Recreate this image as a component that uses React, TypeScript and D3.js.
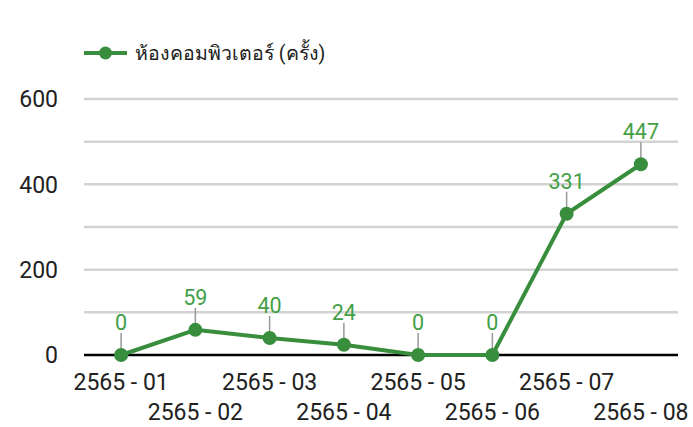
import React from "react";
import * as d3 from "d3";

const categories = ["2565 - 01", "2565 - 02", "2565 - 03", "2565 - 04", "2565 - 05", "2565 - 06", "2565 - 07", "2565 - 08"];
const values = [0, 59, 40, 24, 0, 0, 331, 447];
const yTicks = [0, 200, 400, 600];
const gridTicks = [0, 100, 200, 300, 400, 500, 600];
const seriesName = "ห้องคอมพิวเตอร์ (ครั้ง)";

const W = 693, H = 427;
const left = 84, right = 678, top = 99, bottom = 355;
const lineColor = "#388e3c";
const labelColor = "#43a047";
const font = "Roboto, 'Noto Sans', sans-serif";

export default function App() {
  const x = d3.scaleBand<string>().domain(categories).range([left, right]).padding(0);
  const y = d3.scaleLinear().domain([0, 600]).range([bottom, top]);
  const cx = (c: string) => (x(c) as number) + x.bandwidth() / 2;
  const line = d3.line<number>().x((_, i) => cx(categories[i])).y((d) => y(d));

  return (
    <svg width={W} height={H} style={{ position: "absolute", left: 0, top: 0, background: "#fff" }}>
      <rect width={W} height={H} fill="#fff" />
      {/* legend */}
      <g>
        <line x1={84} x2={127} y1={53} y2={53} stroke={lineColor} strokeWidth={4} />
        <circle cx={105.5} cy={53} r={6.5} fill={lineColor} />
        <text x={135} y={60} fontSize={19.5} fontFamily={font} fill="#212121">{seriesName}</text>
      </g>
      {/* grid */}
      {gridTicks.filter((t) => t !== 0).map((t) => (
        <line key={t} x1={left} x2={right} y1={y(t)} y2={y(t)} stroke="#d3d3d3" strokeWidth={2.5} />
      ))}
      <line x1={left} x2={right} y1={y(0)} y2={y(0)} stroke="#000" strokeWidth={2.5} />
      {yTicks.map((t) => (
        <text key={t} x={58} y={y(t)} dy="0.36em" textAnchor="end" fontSize={23} fontFamily={font} fill="#212121">{t}</text>
      ))}
      {categories.map((c, i) => (
        <text key={c} x={cx(c)} y={i % 2 === 0 ? 390 : 420} textAnchor="middle" fontSize={23} fontFamily={font} fill="#212121">{c}</text>
      ))}
      {/* connectors */}
      {values.map((v, i) => (
        <line key={"c" + i} x1={cx(categories[i])} x2={cx(categories[i])} y1={y(v)} y2={y(v) - 22} stroke="#999" strokeWidth={1.5} />
      ))}
      <path d={line(values) as string} fill="none" stroke={lineColor} strokeWidth={4} strokeLinejoin="round" />
      {values.map((v, i) => (
        <circle key={"p" + i} cx={cx(categories[i])} cy={y(v)} r={7} fill={lineColor} />
      ))}
      {values.map((v, i) => (
        <text key={"l" + i} x={cx(categories[i])} y={y(v) - 25} textAnchor="middle" fontSize={21.5} fontFamily={font} fill={labelColor}>{v}</text>
      ))}
    </svg>
  );
}
